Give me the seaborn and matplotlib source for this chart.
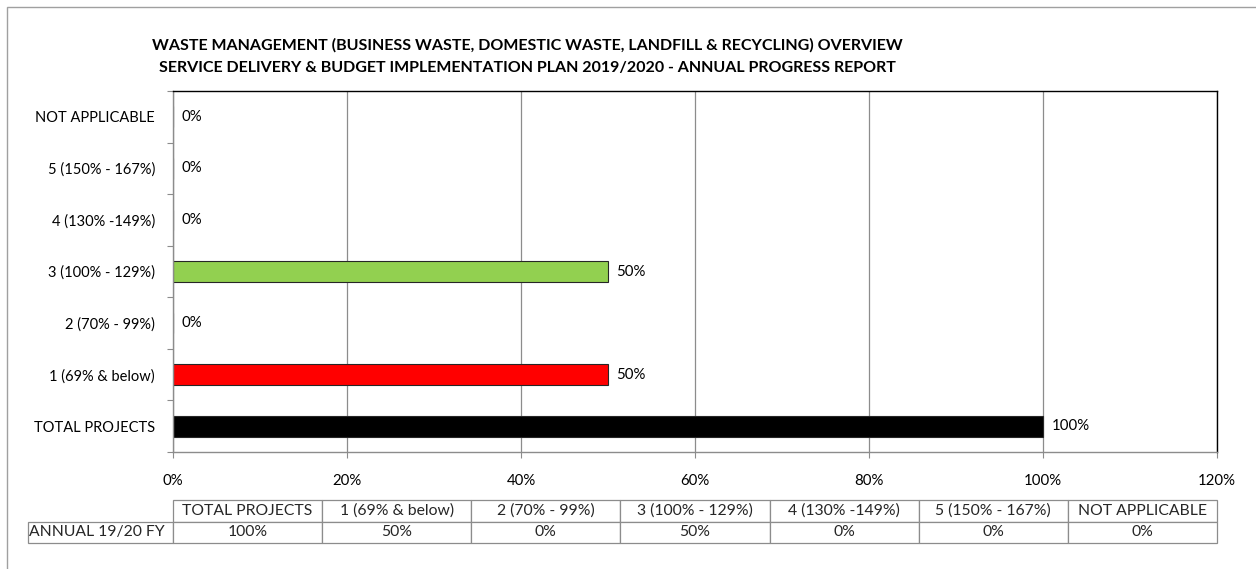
import matplotlib
matplotlib.use("Agg")
import matplotlib.pyplot as plt
import seaborn as sns
import pandas as pd
from matplotlib.patches import Rectangle
from matplotlib.ticker import FixedLocator, PercentFormatter

# ---- data ----
categories = ["NOT APPLICABLE", "5 (150% - 167%)", "4 (130% -149%)", "3 (100% - 129%)",
              "2 (70% - 99%)", "1 (69% & below)", "TOTAL PROJECTS"]
values = [0, 0, 0, 50, 0, 50, 100]
bar_colors = ["#A6A6A6", "#4472C4", "#00B0F0", "#92D050", "#FFC000", "#FF0000", "#000000"]
table_cols = ["TOTAL PROJECTS", "1 (69% & below)", "2 (70% - 99%)", "3 (100% - 129%)",
              "4 (130% -149%)", "5 (150% - 167%)", "NOT APPLICABLE"]
table_vals = ["100%", "50%", "0%", "50%", "0%", "0%", "0%"]
row_label = "ANNUAL 19/20 FY"
title_lines = ["WASTE MANAGEMENT (BUSINESS WASTE, DOMESTIC WASTE, LANDFILL & RECYCLING) OVERVIEW",
               "SERVICE DELIVERY & BUDGET IMPLEMENTATION PLAN 2019/2020 - ANNUAL PROGRESS REPORT"]

sns.set_theme(style="white")
plt.rcParams["font.family"] = ["Lato", "DejaVu Sans"]

W, H = 1256, 569
fig = plt.figure(figsize=(W / 100, H / 100), dpi=100)
ax = fig.add_axes([173 / W, 1 - 452 / H, (1217 - 173) / W, (452 - 91) / H])

df = pd.DataFrame({"cat": categories, "val": values})
sns.barplot(data=df, y="cat", x="val", hue="cat", order=categories, hue_order=categories,
            palette=dict(zip(categories, bar_colors)), width=0.4, legend=False,
            saturation=1, edgecolor="#262626", linewidth=0.8, ax=ax, orient="h")

ax.set_xlim(0, 120)
ax.set_ylim(len(categories) - 0.5, -0.5)
ax.set_xticks(range(0, 121, 20))
ax.xaxis.set_major_formatter(PercentFormatter(decimals=0))
ax.set_xlabel("")
ax.set_ylabel("")
ax.grid(axis="x", color="#8C8C8C", linewidth=0.9)
ax.set_axisbelow(True)

for s in ["top", "right"]:
    ax.spines[s].set_color("black")
    ax.spines[s].set_linewidth(1.0)
for s in ["left", "bottom"]:
    ax.spines[s].set_color("#8C8C8C")
    ax.spines[s].set_linewidth(1.0)

ax.tick_params(axis="x", which="major", length=4, width=0.8, color="#8C8C8C",
               direction="out", pad=12, labelsize=10.8, labelcolor="black", bottom=True)
ax.tick_params(axis="y", which="major", length=0, pad=13, labelsize=10.5, labelcolor="black")
ax.yaxis.set_minor_locator(FixedLocator([i + 0.5 for i in range(-1, len(categories))]))
ax.tick_params(axis="y", which="minor", length=4, width=0.8, color="#8C8C8C",
               direction="out", left=True)

for i, v in enumerate(values):
    ax.annotate(f"{v}%", xy=(v, i), xytext=(6, 0), textcoords="offset points",
                ha="left", va="center", fontsize=10.8, color="black")

# title
for k, line in enumerate(title_lines):
    fig.text(527 / W, 1 - (45 + 23 * k) / H, line, ha="center", va="center",
             fontsize=11.5, fontweight="bold", color="black")

# data table
cell_text = [[""] + table_cols, [row_label] + table_vals]
lab_w = 173 - 28
col_w = (1217 - 173) / 7
tbl = ax.table(cellText=cell_text, cellLoc="center",
               colWidths=[lab_w] + [col_w] * 7,
               bbox=[(28 - 173) / (1217 - 173), -(543 - 452) / (452 - 91),
                     (1217 - 28) / (1217 - 173), (543 - 500) / (452 - 91)])
tbl.auto_set_font_size(False)
for (r, c), cell in tbl.get_celld().items():
    cell.set_edgecolor("#8C8C8C")
    cell.set_linewidth(0.9)
    cell.get_text().set_fontsize(11.3)
    if r == 0 and c == 0:
        cell.visible_edges = ""
    if c == 0 and r == 1:
        cell.get_text().set_ha("left")
        cell.PAD = 0.01

# outer chart border
fig.patches.append(Rectangle((7 / W, -0.1), 1.2, 1 - 7 / H + 0.1, transform=fig.transFigure,
                             fill=False, edgecolor="#A0A0A0", linewidth=1.0))

fig.savefig("out.png", dpi=100)
